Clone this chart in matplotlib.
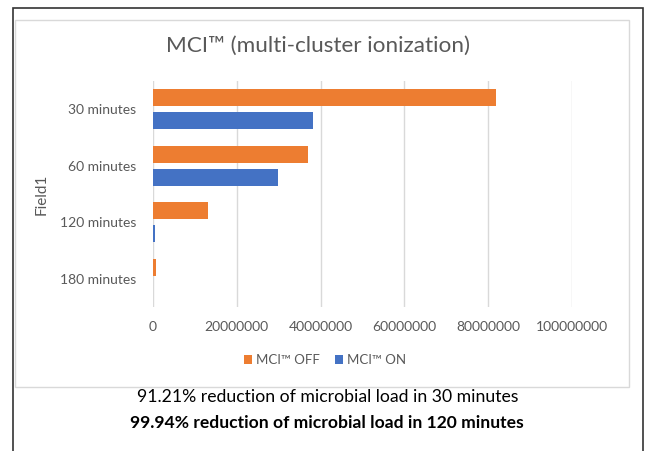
import numpy as np
import matplotlib.pyplot as plt
from matplotlib.patches import Rectangle

# data
categories = ['30 minutes', '60 minutes', '120 minutes', '180 minutes']
mci_off = [81900000, 36900000, 13100000, 600000]
mci_on = [38100000, 29800000, 400000, 0]
x_ticks = [0, 20000000, 40000000, 60000000, 80000000, 100000000]

orange = '#ED7D31'
blue = '#4472C4'
gray = '#595959'

plt.rcParams['font.family'] = ['Lato', 'DejaVu Sans']

fig = plt.figure(figsize=(6.47, 4.51), dpi=100)
ax = fig.add_axes([153 / 647, 1 - 307 / 451, 419 / 647, 226 / 451])

y = np.arange(len(categories))
ax.barh(y - 0.2, mci_off, height=0.3, color=orange, label='MCI™ OFF')
ax.barh(y + 0.2, mci_on, height=0.3, color=blue, label='MCI™ ON')

ax.set_ylim(3.5, -0.5)
ax.set_xlim(0, 100000000)
ax.set_yticks(y)
ax.set_yticklabels(categories)
ax.set_xticks(x_ticks)
ax.set_xticklabels([str(t) for t in x_ticks])
ax.tick_params(length=0, colors=gray, labelsize=10)
ax.tick_params(axis='x', pad=10)
ax.tick_params(axis='y', pad=12)
ax.grid(axis='x', color='#D9D9D9', linewidth=1)
ax.set_axisbelow(True)
for s in ax.spines.values():
    s.set_visible(False)
ax.set_ylabel('Field1', color=gray, fontsize=11, labelpad=8)

fig.text(318 / 647, 1 - 46 / 451, 'MCI™ (multi-cluster ionization)', ha='center',
         va='center', fontsize=16.2, color=gray)

fig.legend(loc='center', bbox_to_anchor=(325 / 647, 1 - 360 / 451), ncol=2,
           frameon=False, fontsize=9.5, handlelength=0.6, handleheight=0.6,
           columnspacing=1.2, handletextpad=0.3, labelcolor=gray)

fig.text(328 / 647, 1 - 397 / 451, '91.21% reduction of microbial load in 30 minutes',
         ha='center', va='center', fontsize=12.7, color='black')
fig.text(327 / 647, 1 - 423 / 451, '99.94% reduction of microbial load in 120 minutes',
         ha='center', va='center', fontsize=12.6, color='black', fontweight='bold')

# chart frame and outer border
fig.add_artist(Rectangle((15 / 647, 1 - 387 / 451), 614 / 647, 367 / 451,
                         transform=fig.transFigure, fill=False, edgecolor='#D9D9D9', lw=1))
fig.add_artist(Rectangle((13 / 647, -0.05), 630 / 647, 1.05 - 8 / 451,
                         transform=fig.transFigure, fill=False, edgecolor='#333333', lw=1.2))

fig.savefig('out.png', dpi=100)
